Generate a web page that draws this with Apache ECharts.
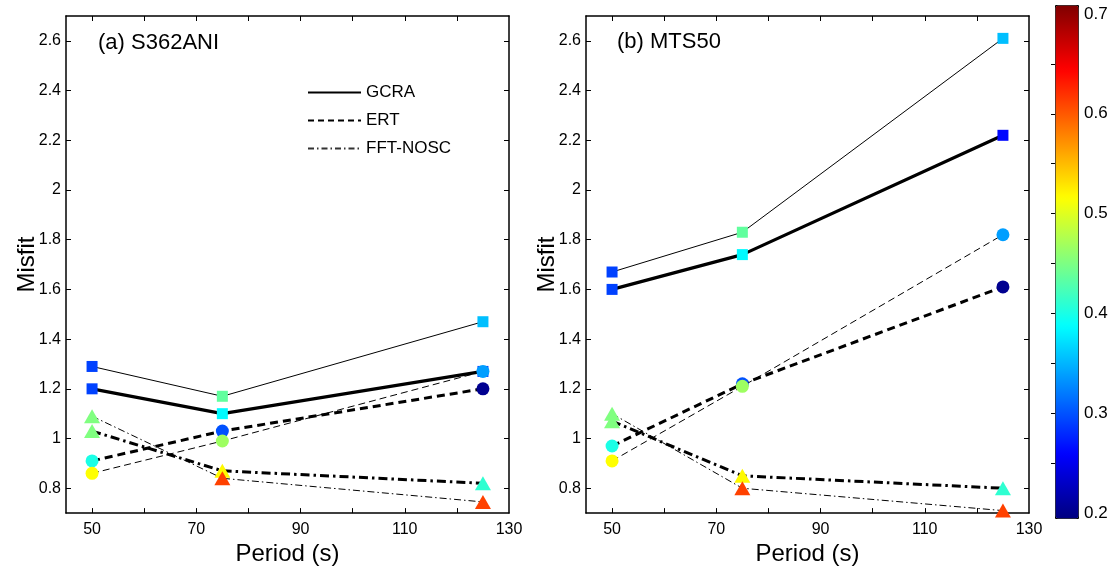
<!DOCTYPE html>
<html>
<head>
<meta charset="utf-8">
<script src="https://cdn.jsdelivr.net/npm/echarts@6/dist/echarts.min.js"></script>
<style>
  html, body { margin: 0; padding: 0; background: #fff; }
  #chart { width: 1112px; height: 571px; }
</style>
</head>
<body>
<div id="chart"></div>
<script>
// periods (s)
const periods = [50, 75, 125];

// (a) S362ANI misfit values
const aGcraThick = [1.20, 1.10, 1.27];
const aGcraThin  = [1.29, 1.17, 1.47];
const aErtThick  = [0.91, 1.03, 1.20];
const aErtThin   = [0.86, 0.99, 1.27];
const aFftThick  = [1.03, 0.87, 0.82];
const aFftThin   = [1.09, 0.84, 0.745];
// (a) colour values (colorbar scale)
const aGcraThickC = [0.294, 0.385, 0.294];
const aGcraThinC  = [0.294, 0.435, 0.356];
const aErtThickC  = [0.40, 0.302, 0.208];
const aErtThinC   = [0.512, 0.465, 0.34];
const aFftThickC  = [0.45, 0.515, 0.41];
const aFftThinC   = [0.45, 0.606, 0.606];

// (b) MTS50 misfit values
const bGcraThick = [1.60, 1.74, 2.22];
const bGcraThin  = [1.67, 1.83, 2.61];
const bErtThick  = [0.97, 1.22, 1.61];
const bErtThin   = [0.91, 1.21, 1.82];
const bFftThick  = [1.07, 0.85, 0.80];
const bFftThin   = [1.10, 0.80, 0.71];
// (b) colour values
const bGcraThickC = [0.294, 0.385, 0.266];
const bGcraThinC  = [0.294, 0.435, 0.356];
const bErtThickC  = [0.40, 0.302, 0.208];
const bErtThinC   = [0.512, 0.465, 0.34];
const bFftThickC  = [0.45, 0.515, 0.41];
const bFftThinC   = [0.45, 0.606, 0.606];

// ticks and labels
const xTicks  = [50, 60, 70, 80, 90, 100, 110, 120];
const xLabels = [50, 70, 90, 110, 130];
const yTicks  = [0.8, 1.0, 1.2, 1.4, 1.6, 1.8, 2.0, 2.2, 2.4, 2.6];
const cbTicks  = [0.25, 0.3, 0.35, 0.4, 0.45, 0.5, 0.55, 0.6, 0.65];
const cbLabels = [0.2, 0.3, 0.4, 0.5, 0.6, 0.7];
const legendNames = ['GCRA', 'ERT', 'FFT-NOSC'];

const jet = ['#000080', '#0000ff', '#0080ff', '#00ffff', '#80ff80',
             '#ffff00', '#ff8000', '#ff0000', '#800000'];

const FONT = '"Liberation Sans", Arial, Helvetica, sans-serif';
const chart = echarts.init(document.getElementById('chart'));

const thickSolid = { width: 3.2, type: 'solid' };
const thinSolid  = { width: 1, type: 'solid' };
const thickDash  = { width: 3, type: [8, 5] };
const thinDash   = { width: 1, type: [7, 4] };
const thickDD    = { width: 3, type: [9, 4, 2.5, 4] };
const thinDD     = { width: 1, type: [7, 3, 1.5, 3] };

function panel(ax, gcraT, gcraN, ertT, ertN, fftT, fftN, gcraTC, gcraNC, ertTC, ertNC, fftTC, fftNC) {
  const lines = [
    [gcraT, thickSolid], [gcraN, thinSolid],
    [ertT, thickDash], [ertN, thinDash],
    [fftT, thickDD], [fftN, thinDD]
  ];
  const marks = [
    [gcraT, gcraTC, 'rect', 11], [gcraN, gcraNC, 'rect', 11],
    [ertT, ertTC, 'circle', 13], [ertN, ertNC, 'circle', 13],
    [fftT, fftTC, 'triangle', [16, 14]], [fftN, fftNC, 'triangle', [16, 14]]
  ];
  const out = [];
  lines.forEach(l => {
    out.push({
      type: 'line', xAxisIndex: ax.x, yAxisIndex: ax.y, silent: true,
      symbol: 'none', animation: false, z: 2,
      lineStyle: { color: '#000', width: l[1].width, type: l[1].type },
      data: periods.map((p, i) => [p, l[0][i]])
    });
  });
  marks.forEach(m => {
    out.push({
      type: 'scatter', xAxisIndex: ax.x, yAxisIndex: ax.y, silent: true,
      symbol: m[2], symbolSize: m[3], animation: false, z: 3,
      itemStyle: { opacity: 1 },
      data: periods.map((p, i) => [p, m[0][i], m[1][i]])
    });
  });
  return out;
}

let series = [];
series = series.concat(panel({ x: 0, y: 0 }, aGcraThick, aGcraThin, aErtThick, aErtThin, aFftThick, aFftThin,
  aGcraThickC, aGcraThinC, aErtThickC, aErtThinC, aFftThickC, aFftThinC));
series = series.concat(panel({ x: 2, y: 2 }, bGcraThick, bGcraThin, bErtThick, bErtThin, bFftThick, bFftThin,
  bGcraThickC, bGcraThinC, bErtThickC, bErtThinC, bFftThickC, bFftThinC));

const scatterIdx = [];
series.forEach((s, i) => { if (s.type === 'scatter') scatterIdx.push(i); });

// legend-only series
const legendStyles = [
  { width: 2.2, type: 'solid', color: '#000' },
  { width: 1.8, type: [6, 4], color: '#000' },
  { width: 1, type: [6, 3, 1.5, 3], color: '#333' }
];
legendNames.forEach((n, i) => {
  series.push({ name: n, type: 'line', xAxisIndex: 0, yAxisIndex: 0, symbol: 'none', symbolSize: 0, data: [],
    lineStyle: legendStyles[i], itemStyle: { color: '#000', opacity: 0 } });
});

function xAx(grid, pos, withLabels) {
  return {
    type: 'value', gridIndex: grid, position: pos, min: 45, max: 130,
    axisLine: { onZero: false, lineStyle: { color: '#000', width: 1.5 } },
    axisTick: { inside: true, length: 5, customValues: xTicks, lineStyle: { color: '#000', width: 1 } },
    axisLabel: withLabels ? { customValues: xLabels, color: '#000', fontSize: 16, margin: 8, fontFamily: FONT } : { show: false },
    splitLine: { show: false },
    name: withLabels ? 'Period (s)' : '', nameLocation: 'middle', nameGap: 23,
    nameTextStyle: { fontSize: 24, color: '#000', fontFamily: FONT }
  };
}
function yAx(grid, pos, withLabels) {
  return {
    type: 'value', gridIndex: grid, position: pos, min: 0.7, max: 2.7,
    axisLine: { onZero: false, lineStyle: { color: '#000', width: 1.5 } },
    axisTick: { inside: true, length: 5, customValues: yTicks, lineStyle: { color: '#000', width: 1 } },
    axisLabel: withLabels ? { customValues: yTicks, color: '#000', fontSize: 16, margin: 5, fontFamily: FONT } : { show: false },
    splitLine: { show: false },
    name: withLabels ? 'Misfit' : '', nameLocation: 'middle', nameGap: 27, nameRotate: 90,
    nameMoveOverlap: false,
    nameTextStyle: { fontSize: 24, color: '#000', fontFamily: FONT }
  };
}

const option = {
  backgroundColor: '#fff',
  animation: false,
  textStyle: { fontFamily: FONT },
  title: [
    { text: '(a) S362ANI', left: 93, top: 27, textStyle: { fontSize: 22, fontWeight: 'normal', color: '#000', fontFamily: FONT } },
    { text: '(b) MTS50', left: 612, top: 26, textStyle: { fontSize: 22, fontWeight: 'normal', color: '#000', fontFamily: FONT } }
  ],
  legend: {
    data: legendNames, orient: 'vertical', left: 302, top: 79,
    itemWidth: 53, itemHeight: 14, itemGap: 11, selectedMode: false,
    itemStyle: { opacity: 0 },
    textStyle: { fontSize: 17, color: '#000', fontFamily: FONT }
  },
  grid: [
    { left: 66, top: 16, width: 443, height: 502 },
    { left: 586, top: 16, width: 443, height: 502 },
    { left: 1055, top: 14, width: 23, height: 499 }
  ],
  xAxis: [
    xAx(0, 'bottom', true), xAx(0, 'top', false),
    xAx(1, 'bottom', true), xAx(1, 'top', false),
    { type: 'value', gridIndex: 2, show: false, min: 0, max: 1 }
  ],
  yAxis: [
    yAx(0, 'left', true), yAx(0, 'right', false),
    yAx(1, 'left', true), yAx(1, 'right', false),
    {
      type: 'value', gridIndex: 2, position: 'right', min: 0.2, max: 0.7, z: 10,
      axisLine: { show: false },
      axisTick: { inside: true, length: 4, customValues: cbTicks, lineStyle: { color: '#000' } },
      axisLabel: { customValues: cbLabels, color: '#000', fontSize: 17, margin: 6, fontFamily: FONT },
      splitLine: { show: false }
    }
  ],
  visualMap: {
    type: 'continuous', min: 0.2, max: 0.7, dimension: 2, seriesIndex: scatterIdx,
    inRange: { color: jet, opacity: 1 }, calculable: false, hoverLink: false,
    left: 1055, top: 5, itemWidth: 23, itemHeight: 513, padding: 0,
    borderColor: '#000', borderWidth: 1
  },
  series: series
};

chart.setOption(option);
</script>
</body>
</html>
